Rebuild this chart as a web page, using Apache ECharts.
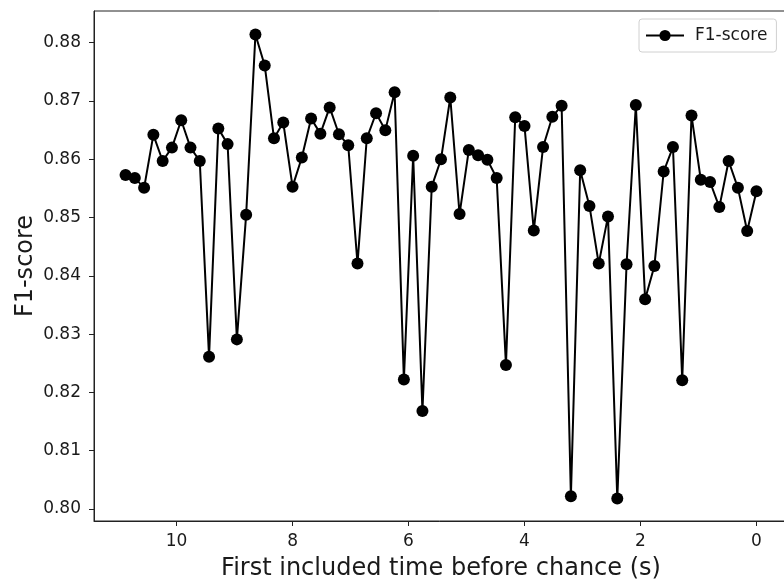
<!DOCTYPE html>
<html>
<head>
<meta charset="utf-8">
<script src="https://cdn.jsdelivr.net/npm/echarts@6/dist/echarts.min.js"></script>
<style>
html,body{margin:0;padding:0;background:#fff;}
#chart{width:784px;height:582px;}
</style>
</head>
<body>
<div id="chart"></div>
<script>
// Time before chance (s) for each evaluation point
const timeBefore = [10.88, 10.72, 10.56, 10.40, 10.24, 10.08, 9.92, 9.76, 9.60, 9.44,
  9.28, 9.12, 8.96, 8.80, 8.64, 8.48, 8.32, 8.16, 8.00, 7.84,
  7.68, 7.52, 7.36, 7.20, 7.04, 6.88, 6.72, 6.56, 6.40, 6.24,
  6.08, 5.92, 5.76, 5.60, 5.44, 5.28, 5.12, 4.96, 4.80, 4.64,
  4.48, 4.32, 4.16, 4.00, 3.84, 3.68, 3.52, 3.36, 3.20, 3.04,
  2.88, 2.72, 2.56, 2.40, 2.24, 2.08, 1.92, 1.76, 1.60, 1.44,
  1.28, 1.12, 0.96, 0.80, 0.64, 0.48, 0.32, 0.16, 0.00];
// F1-score values
const f1Score = [0.8573, 0.8568, 0.8551, 0.8642, 0.8597, 0.8620, 0.8667, 0.8620, 0.8597, 0.8261,
  0.8653, 0.8626, 0.8291, 0.8505, 0.8814, 0.8761, 0.8636, 0.8663, 0.8553, 0.8603,
  0.8670, 0.8644, 0.8689, 0.8643, 0.8624, 0.8421, 0.8636, 0.8679, 0.8650, 0.8715,
  0.8222, 0.8606, 0.8168, 0.8553, 0.8600, 0.8706, 0.8506, 0.8616, 0.8607, 0.8599,
  0.8568, 0.8247, 0.8672, 0.8657, 0.8478, 0.8621, 0.8673, 0.8692, 0.8022, 0.8581,
  0.8520, 0.8421, 0.8502, 0.8018, 0.8420, 0.8693, 0.8360, 0.8417, 0.8579, 0.8621,
  0.8221, 0.8675, 0.8565, 0.8561, 0.8518, 0.8597, 0.8551, 0.8477, 0.8545];
const xTicks = [0, 2, 4, 6, 8, 10];
const yTicks = [0.80, 0.81, 0.82, 0.83, 0.84, 0.85, 0.86, 0.87, 0.88];
const seriesName = 'F1-score';
const xTitle = 'First included time before chance (s)';
const yTitle = 'F1-score';

const FONT = 'DejaVu Sans';
const TXT = '#1a1a1a';
const chart = echarts.init(document.getElementById('chart'), null, {renderer: 'canvas'});
chart.setOption({
  animation: false,
  backgroundColor: '#fff',
  textStyle: {fontFamily: FONT},
  grid: {left: 94, right: -4, top: 11, bottom: 61, show: true, borderColor: '#222', borderWidth: 1,
    containLabel: false, outerBoundsMode: 'none'},
  legend: {
    data: [seriesName],
    left: 639, top: 19,
    orient: 'vertical',
    padding: [8, 9, 8, 6],
    itemWidth: 38, itemHeight: 14,
    borderColor: '#d0d0d0', borderWidth: 1, borderRadius: 3,
    backgroundColor: '#fff',
    textStyle: {fontFamily: FONT, fontSize: 17, color: TXT, padding: [0, 0, 0, 6]}
  },
  xAxis: {
    type: 'value', inverse: true, min: -0.544, max: 11.424,
    name: xTitle, nameLocation: 'middle', nameGap: 36, nameMoveOverlap: false,
    nameTextStyle: {fontFamily: FONT, fontSize: 24, color: TXT},
    axisLine: {show: true, onZero: false, lineStyle: {color: '#222', width: 1}},
    axisTick: {show: true, inside: false, length: 5, customValues: xTicks, lineStyle: {color: '#222', width: 1}},
    axisLabel: {show: true, margin: 12, customValues: xTicks, fontFamily: FONT, fontSize: 17, color: TXT, formatter: v => String(v)},
    splitLine: {show: false}
  },
  yAxis: {
    type: 'value', min: 0.79794, max: 0.88544,
    name: yTitle, nameLocation: 'middle', nameGap: 56, nameMoveOverlap: false,
    nameTextStyle: {fontFamily: FONT, fontSize: 24, color: TXT},
    axisLine: {show: true, onZero: false, lineStyle: {color: '#222', width: 1}},
    axisTick: {show: true, inside: false, length: 5, customValues: yTicks, lineStyle: {color: '#222', width: 1}},
    axisLabel: {show: true, margin: 13, customValues: yTicks, fontFamily: FONT, fontSize: 17, color: TXT, formatter: v => v.toFixed(2)},
    splitLine: {show: false}
  },
  series: [{
    name: seriesName,
    type: 'line',
    data: timeBefore.map((t, i) => [t, f1Score[i]]),
    symbol: 'circle', symbolSize: 12,
    lineStyle: {color: '#000', width: 2},
    itemStyle: {color: '#000'},
    clip: true
  }]
});
</script>
</body>
</html>
